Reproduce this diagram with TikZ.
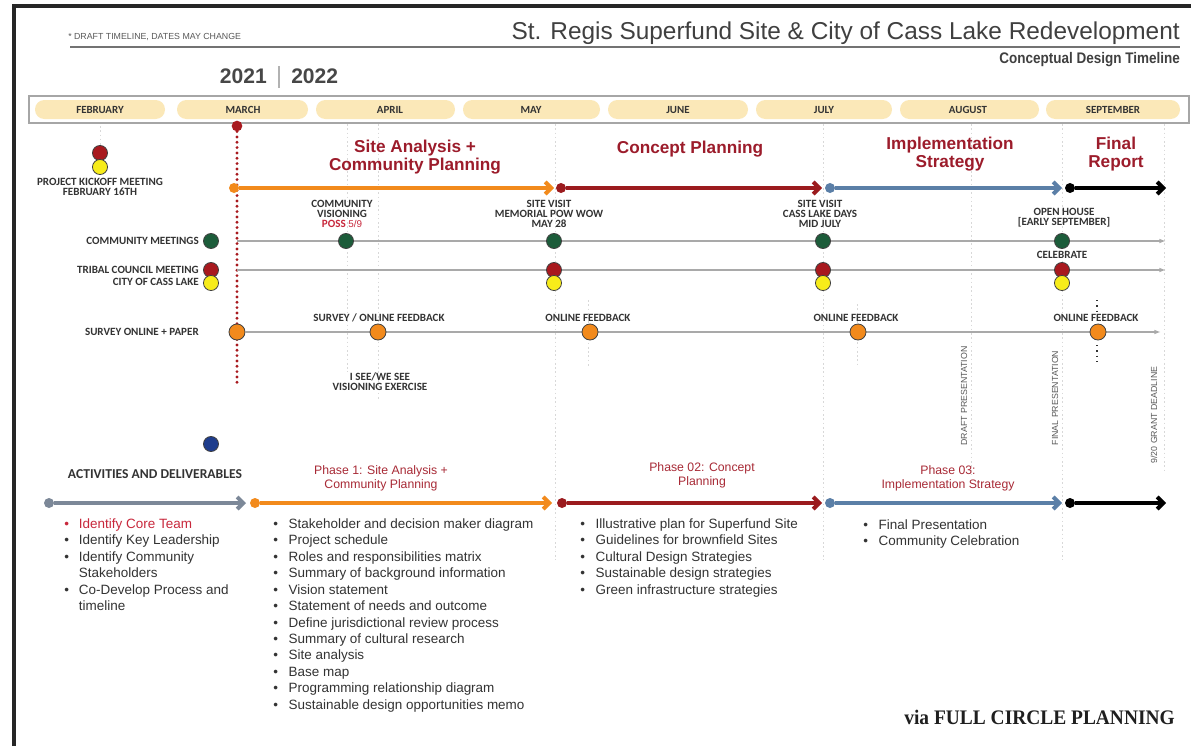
\documentclass[tikz,border=0pt]{standalone}
\usepackage{fontspec}
\setmainfont{Liberation Sans}
\newfontfamily\calfont{Carlito}
\newfontfamily\serifbold{Liberation Serif}
\usetikzlibrary{arrows.meta}
\definecolor{hdred}{HTML}{9C1C2B}
\definecolor{phred}{HTML}{A82A36}
\definecolor{orng}{HTML}{F28A1C}
\definecolor{dkred}{HTML}{9B1B1E}
\definecolor{stblue}{HTML}{5B7FA7}
\definecolor{slate}{HTML}{7C8898}
\definecolor{grn}{HTML}{1C5C3A}
\definecolor{ylw}{HTML}{F7EC1A}
\definecolor{rcirc}{HTML}{A8191E}
\definecolor{pill}{HTML}{FBE8B8}
\definecolor{txt}{HTML}{333333}
\definecolor{rowline}{HTML}{A9A9A9}
\definecolor{faint}{HTML}{D8D8D8}
\definecolor{navy}{HTML}{1E3C8C}
\definecolor{bulred}{HTML}{C8283C}
\begin{document}
\begin{tikzpicture}[x=0.75pt,y=-0.75pt,
  lbl/.style={font=\calfont\bfseries\fontsize{8.3}{7.4}\selectfont, text=txt, inner sep=0, align=center},
  mon/.style={font=\calfont\bfseries\fontsize{8.2}{8}\selectfont, text=txt, inner sep=0},
  head/.style={font=\bfseries\fontsize{12.9}{13.5}\selectfont, text=hdred, inner sep=0, align=center},
  phl/.style={font=\fontsize{9.2}{10.5}\selectfont, text=phred, inner sep=0, align=center},
  lst/.style={font=\fontsize{10.1}{12.34}\selectfont, text=txt, inner sep=0},
  rot/.style={font=\fontsize{6.6}{7}\selectfont, text=black!65, inner sep=0, rotate=90},
  pdot/.style={circle, inner sep=0, minimum size=7.5pt, draw=none},
  bdot/.style={circle, inner sep=0, minimum size=11.3pt, draw=black!75, line width=0.6pt},
  parrow/.style={line width=3pt, -{Straight Barb[length=4.5pt,width=9pt]}},
  rarrow/.style={rowline, line width=1.1pt, -{Latex[length=5pt,width=3.5pt]}},
  faintline/.style={faint, line width=0.7pt, dash pattern=on 1.2pt off 2pt},
  reddots/.style={rcirc, line width=2.4pt, line cap=round, dash pattern=on 0pt off 4pt},
  pillbox/.style={fill=pill, rounded corners=7pt}
]
\useasboundingbox (0,0) rectangle (1191,746);
\fill[white] (0,0) rectangle (1191,746);
% frame
\draw[black!85, line width=2.4pt] (14,746) -- (14,6) -- (1191,6);

% header
\node[anchor=base west, font=\fontsize{6.6}{7}\selectfont, text=black!65, inner sep=0] (draft) at (68,39) {* DRAFT TIMELINE, DATES MAY CHANGE};
\node[anchor=base east, font=\fontsize{18.3}{20}\selectfont, text=black!75, inner sep=0] (title) at (1180,39) {St. Regis Superfund Site \& City of Cass Lake Redevelopment};
\draw[black!55, line width=0.8pt] (70,47) -- (1180,47);
\node[anchor=base east, font=\bfseries\fontsize{11.5}{12}\selectfont, text=black!75, inner sep=0, xscale=0.88] (sub) at (1180,63) {Conceptual Design Timeline};
\node[anchor=base east, font=\bfseries\fontsize{15.8}{16}\selectfont, text=black!72, inner sep=0] (y1) at (267,83) {2021};
\node[anchor=base west, font=\bfseries\fontsize{15.8}{16}\selectfont, text=black!72, inner sep=0] (y2) at (291,83) {2022};
\draw[black!30, line width=0.8pt] (279,66) -- (279,88);

% month bar
\draw[black!35, line width=1pt] (29,96) rectangle (1189,123);
\fill[pillbox] (35,100) rectangle (165,119);
\fill[pillbox] (177,100) rectangle (308,119);
\fill[pillbox] (316,100) rectangle (455,119);
\fill[pillbox] (463,100) rectangle (600,119);
\fill[pillbox] (608,100) rectangle (748,119);
\fill[pillbox] (756,100) rectangle (892,119);
\fill[pillbox] (900,100) rectangle (1039,119);
\fill[pillbox] (1046,100) rectangle (1180,119);
\node[mon] (mfeb) at (100,110) {FEBRUARY};
\node[mon] (mmar) at (243,110) {MARCH};
\node[mon] (mapr) at (390,110) {APRIL};
\node[mon] (mmay) at (531,110) {MAY};
\node[mon] (mjun) at (678,110) {JUNE};
\node[mon] (mjul) at (824,110) {JULY};
\node[mon] (maug) at (968,110) {AUGUST};
\node[mon] (msep) at (1113,110) {SEPTEMBER};

% faint guide lines
\draw[faintline] (100,126) -- (100,145);
\draw[faintline] (347,124) -- (347,372);
\draw[faintline] (378,124) -- (378,400);
\draw[faintline] (555,124) -- (555,560);
\draw[faintline] (588,300) -- (588,366);
\draw[faintline] (823,124) -- (823,560);
\draw[faintline] (857,304) -- (857,366);
\draw[faintline] (971,124) -- (971,478);
\draw[faintline] (1062,124) -- (1062,560);
\draw[faintline] (1164,124) -- (1164,470);

% red dotted March line
\node[pdot, fill=rcirc, minimum size=8pt] (rtop) at (237,126) {};
\coordinate (rbot) at (237,385);
\draw[reddots] (rtop) -- (rbot);

% kickoff
\node[bdot, fill=rcirc] (kr) at (100,153) {};
\node[bdot, fill=ylw] (ky) at (100,167) {};
\node[lbl] (ktxt) at (100,187) {PROJECT KICKOFF MEETING\\FEBRUARY 16TH};

% phase headings
\node[head] (h1) at (415,157) {Site Analysis +\\Community Planning};
\node[head] (h2) at (690,149) {Concept Planning};
\node[head] (h3) at (950,154) {Implementation\\Strategy};
\node[head] (h4) at (1116,154) {Final\\Report};

% phase arrows top
\node[pdot, fill=orng] (t1) at (234,188) {};
\coordinate (t1e) at (554,188);
\draw[parrow, orng] (t1) -- (t1e);
\node[pdot, fill=dkred] (t2) at (561,188) {};
\coordinate (t2e) at (822,188);
\draw[parrow, dkred] (t2) -- (t2e);
\node[pdot, fill=stblue] (t3) at (830,188) {};
\coordinate (t3e) at (1062,188);
\draw[parrow, stblue] (t3) -- (t3e);
\node[pdot, fill=black] (t4) at (1070,188) {};
\coordinate (t4e) at (1166,188);
\draw[parrow, black] (t4) -- (t4e);

% community meetings row
\node[lbl, anchor=east] (cmlab) at (199,241) {COMMUNITY MEETINGS};
\node[bdot, fill=grn] (cm0) at (211,241) {};
\coordinate (cms) at (237,241);
\coordinate (cme) at (1166,241);
\draw[rarrow] (cms) -- (cme);
\node[bdot, fill=grn] (cm1) at (346,241) {};
\node[bdot, fill=grn] (cm2) at (554,241) {};
\node[bdot, fill=grn] (cm3) at (823,241) {};
\node[bdot, fill=grn] (cm4) at (1062,241) {};
\node[lbl] (cv) at (342,214) {COMMUNITY\\VISIONING\\{\color{bulred}POSS {\mdseries\fontspec{Liberation Sans}\fontsize{7.4}{7.4}\selectfont 5/9}}};
\node[lbl] (sv1) at (549,214) {SITE VISIT\\MEMORIAL POW WOW\\MAY 28};
\node[lbl] (sv2) at (820,214) {SITE VISIT\\CASS LAKE DAYS\\MID JULY};
\node[lbl] (oh) at (1064,218) {OPEN HOUSE\\{[}EARLY SEPTEMBER{]}};
\node[lbl] (cel) at (1062,255) {CELEBRATE};

% tribal council row
\node[lbl, anchor=east, align=right, font=\calfont\bfseries\fontsize{8.3}{8.4}\selectfont] (tclab) at (199,276) {TRIBAL COUNCIL MEETING\\CITY OF CASS LAKE};
\coordinate (tcs) at (237,270);
\coordinate (tce) at (1166,270);
\draw[rarrow] (tcs) -- (tce);
\node[bdot, fill=rcirc] (tr0) at (211,270) {};
\node[bdot, fill=ylw] (ty0) at (211,283) {};
\node[bdot, fill=rcirc] (tr1) at (554,270) {};
\node[bdot, fill=ylw] (ty1) at (554,283) {};
\node[bdot, fill=rcirc] (tr2) at (823,270) {};
\node[bdot, fill=ylw] (ty2) at (823,283) {};
\node[bdot, fill=rcirc] (tr3) at (1062,270) {};
\node[bdot, fill=ylw] (ty3) at (1062,283) {};

% survey row
\node[lbl, anchor=east] (svlab) at (199,332) {SURVEY ONLINE + PAPER};
\node[bdot, fill=orng, minimum size=12pt] (s0) at (237,332) {};
\coordinate (se) at (1161,332);
\draw[rarrow] (s0) -- (se);
\node[bdot, fill=orng, minimum size=12pt] (s1) at (378,332) {};
\node[bdot, fill=orng, minimum size=12pt] (s2) at (590,332) {};
\node[bdot, fill=orng, minimum size=12pt] (s3) at (858,332) {};
\node[bdot, fill=orng, minimum size=12pt] (s4) at (1098,332) {};
\node[lbl] (sl1) at (379,318) {SURVEY / ONLINE FEEDBACK};
\node[lbl] (sl2) at (588,318) {ONLINE FEEDBACK};
\node[lbl] (sl3) at (856,318) {ONLINE FEEDBACK};
\node[lbl] (sl4) at (1096,318) {ONLINE FEEDBACK};
\node[lbl] (isee) at (380,382) {I SEE/WE SEE\\VISIONING EXERCISE};
\draw[black!80, line width=1pt, dash pattern=on 1pt off 3pt] (1097,300) -- (1097,312);
\draw[black!80, line width=1pt, dash pattern=on 1pt off 3pt] (1097,345) -- (1097,366);

% rotated milestones
\node[rot] (dp) at (964,396) {DRAFT PRESENTATION};
\node[rot] (fp) at (1055,398) {FINAL PRESENTATION};
\node[rot] (gd) at (1154,415) {9/20 GRANT DEADLINE};

% activities
\node[bdot, fill=navy] (bl) at (211,444) {};
\node[font=\calfont\bfseries\fontsize{10.2}{11}\selectfont, text=txt, inner sep=0] (act) at (155,474) {ACTIVITIES AND DELIVERABLES};
\node[phl] (p1) at (381,478) {Phase 1: Site Analysis +\\Community Planning};
\node[phl] (p2) at (702,475) {Phase 02: Concept\\Planning};
\node[phl] (p3) at (948,478) {Phase 03:\\Implementation Strategy};

% lower arrows
\node[pdot, fill=slate] (b0) at (49,503) {};
\coordinate (b0e) at (246,503);
\draw[parrow, slate] (b0) -- (b0e);
\node[pdot, fill=orng] (b1) at (255,503) {};
\coordinate (b1e) at (552,503);
\draw[parrow, orng] (b1) -- (b1e);
\node[pdot, fill=dkred] (b2) at (562,503) {};
\coordinate (b2e) at (822,503);
\draw[parrow, dkred] (b2) -- (b2e);
\node[pdot, fill=stblue] (b3) at (830,503) {};
\coordinate (b3e) at (1062,503);
\draw[parrow, stblue] (b3) -- (b3e);
\node[pdot, fill=black] (b4) at (1070,503) {};
\coordinate (b4e) at (1166,503);
\draw[parrow, black] (b4) -- (b4e);

% lists
\node[lst, anchor=north west] (c1) at (64,516.5) {\begin{tabular}{@{}l@{\hspace{7.5pt}}l@{}}
{\color{bulred}\textbullet} & {\color{bulred}Identify Core Team}\\
\textbullet & Identify Key Leadership\\
\textbullet & Identify Community\\
 & Stakeholders\\
\textbullet & Co-Develop Process and\\
 & timeline
\end{tabular}};
\node[lst, anchor=north west] (c2) at (273,516.5) {\begin{tabular}{@{}l@{\hspace{8pt}}l@{}}
\textbullet & Stakeholder and decision maker diagram\\
\textbullet & Project schedule\\
\textbullet & Roles and responsibilities matrix\\
\textbullet & Summary of background information\\
\textbullet & Vision statement\\
\textbullet & Statement of needs and outcome\\
\textbullet & Define jurisdictional review process\\
\textbullet & Summary of cultural research\\
\textbullet & Site analysis\\
\textbullet & Base map\\
\textbullet & Programming relationship diagram\\
\textbullet & Sustainable design opportunities memo
\end{tabular}};
\node[lst, anchor=north west] (c3) at (580,516.5) {\begin{tabular}{@{}l@{\hspace{8pt}}l@{}}
\textbullet & Illustrative plan for Superfund Site\\
\textbullet & Guidelines for brownfield Sites\\
\textbullet & Cultural Design Strategies\\
\textbullet & Sustainable design strategies\\
\textbullet & Green infrastructure strategies
\end{tabular}};
\node[lst, anchor=north west] (c4) at (863,517.5) {\begin{tabular}{@{}l@{\hspace{8pt}}l@{}}
\textbullet & Final Presentation\\
\textbullet & Community Celebration
\end{tabular}};

% credit
\node[anchor=base east, font=\serifbold\bfseries\fontsize{15.5}{16}\selectfont, text=black!88, inner sep=0, xscale=0.94] (credit) at (1175,724) {via FULL CIRCLE PLANNING};
\end{tikzpicture}
\end{document}
